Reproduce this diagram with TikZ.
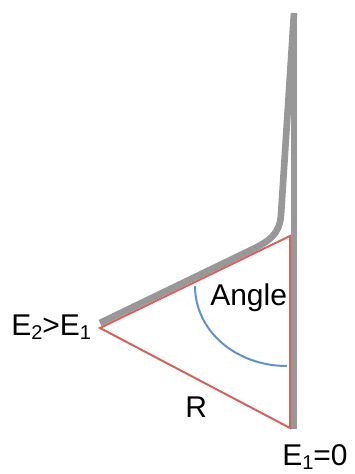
\documentclass[tikz,border=0pt]{standalone}
\usepackage{fontspec}
\setmainfont{Liberation Sans}
\definecolor{wallgray}{RGB}{152,152,152}
\definecolor{trired}{RGB}{214,98,90}
\definecolor{arcblue}{RGB}{96,146,205}
\newcommand{\lbsub}[1]{\raisebox{-3pt}{\fontsize{15}{17}\selectfont #1}}
\begin{document}
\begin{tikzpicture}[x=0.75pt,y=-0.75pt,
  wall/.style={draw=wallgray,line width=5pt},
  tri/.style={draw=trired,line width=1.5pt,line join=miter},
  arcline/.style={draw=arcblue,line width=1.5pt},
  lbl/.style={anchor=base west,inner sep=0pt,font=\fontsize{22.5}{25}\selectfont}]
\useasboundingbox (0,0) rectangle (354,474);
\coordinate (L) at (100,328);
\coordinate (T) at (290,236);
\coordinate (B) at (290,428);
\coordinate (wt) at (294,13);
\coordinate (wb) at (294,429);
% wall and surface
\draw[wall] (wt) -- (wb);
\draw[wall,line join=round] (100,323) -- (250,250.5) .. controls (270,241) and (279.5,234) .. (281,215) -- (wt);
% triangle
\draw[tri] (L) -- (T) -- (B) -- cycle;
% angle arc
\draw[arcline] (195,286) .. controls (195,331) and (236,366) .. (287,366);
% labels
\node[lbl] (e2) at (11,335) {E\lbsub{2}>E\lbsub{1}};
\node[lbl] (ang) at (210,305) {Angle};
\node[lbl] (r) at (185,417) {R};
\node[lbl] (e1) at (282,465) {E\lbsub{1}=0};
\end{tikzpicture}
\end{document}
